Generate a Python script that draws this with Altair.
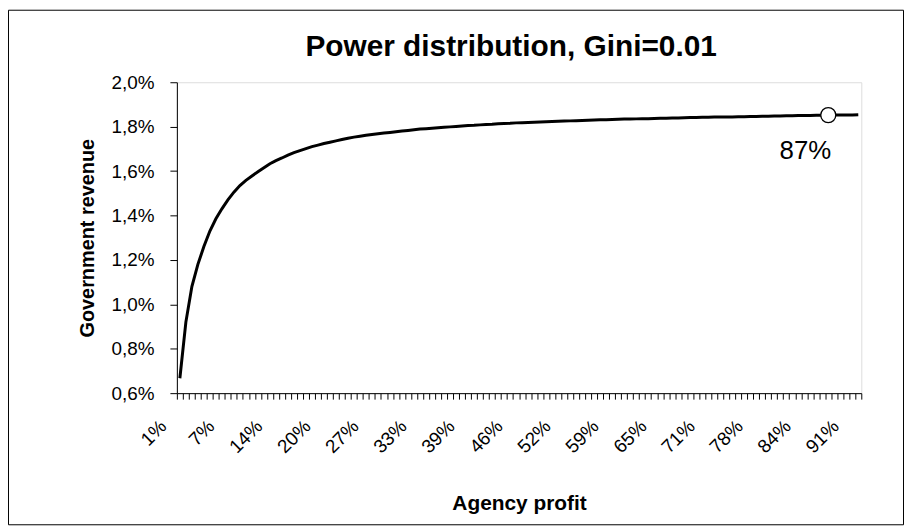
import altair as alt
import pandas as pd

# Government revenue (%) for each agency-profit category (114 categories)
revenue = [
    0.667, 0.92, 1.08, 1.18, 1.26, 1.33, 1.385, 1.43, 1.47, 1.505,
    1.535, 1.558, 1.578, 1.597, 1.615, 1.633, 1.647, 1.659, 1.672, 1.683,
    1.692, 1.701, 1.710, 1.717, 1.724, 1.730, 1.736, 1.742, 1.748, 1.753,
    1.757, 1.761, 1.765, 1.768, 1.771, 1.774, 1.777, 1.780, 1.783, 1.786,
    1.789, 1.791, 1.793, 1.795, 1.797, 1.799, 1.801, 1.803, 1.805, 1.806,
    1.808, 1.810, 1.811, 1.813, 1.814, 1.815, 1.817, 1.818, 1.819, 1.820,
    1.821, 1.822, 1.823, 1.824, 1.825, 1.826, 1.827, 1.828, 1.829, 1.830,
    1.831, 1.831, 1.832, 1.833, 1.834, 1.834, 1.835, 1.836, 1.836, 1.837,
    1.838, 1.838, 1.839, 1.839, 1.840, 1.841, 1.841, 1.842, 1.842, 1.843,
    1.843, 1.844, 1.844, 1.845, 1.845, 1.846, 1.846, 1.847, 1.847, 1.848,
    1.848, 1.849, 1.849, 1.850, 1.850, 1.850, 1.851, 1.851, 1.852, 1.852,
    1.852, 1.853, 1.853, 1.854,
]

# category tick labels (every 8th category is labelled)
label_index = [0, 8, 16, 24, 32, 40, 48, 56, 64, 72, 80, 88, 96, 104, 112]
label_text = ["1%", "7%", "14%", "20%", "27%", "33%", "39%", "46%", "52%",
              "59%", "65%", "71%", "78%", "84%", "91%"]

y_ticks = [0.6, 0.8, 1.0, 1.2, 1.4, 1.6, 1.8, 2.0]

marker_index = 108
marker_label = "87%"

n_cat = len(revenue)
df = pd.DataFrame({"idx": list(range(n_cat)), "rev": revenue})
df["pos"] = df["idx"] + 0.5
mdf = pd.DataFrame({"pos": [marker_index + 0.5], "rev": [revenue[marker_index]],
                    "label": [marker_label]})

FONT = "Liberation Sans"

expr = "''"
for i, t in reversed(list(zip(label_index, label_text))):
    expr = f"datum.value == {i} ? '{t}' : ({expr})"

x_enc = alt.X(
    "pos:Q",
    scale=alt.Scale(domain=[0, n_cat], nice=False, zero=False),
    axis=alt.Axis(
        values=list(range(n_cat + 1)),
        labelExpr=expr,
        labelAngle=315,
        labelAlign="right",
        labelBaseline="middle",
        labelOffset=-14,
        labelPadding=24,
        labelFontSize=19,
        labelOverlap=False,
        labelFlush=False,
        labelColor="black",
        tickSize=6,
        tickColor="black",
        domainColor="black",
        grid=False,
        title="Agency profit",
        titleFontSize=21,
        titleFontWeight="bold",
        titleColor="black",
        titleX=344.5,
        titleY=111,
        titleBaseline="middle",
        titleAlign="center",
    ),
)

y_enc = alt.Y(
    "rev:Q",
    scale=alt.Scale(domain=[0.6, 2.0], nice=False, zero=False),
    axis=alt.Axis(
        values=y_ticks,
        labelExpr="replace(format(datum.value, '.1f'), '.', ',') + '%'",
        labelFontSize=19,
        labelPadding=16,
        labelColor="black",
        tickSize=7,
        tickColor="black",
        domainColor="black",
        grid=False,
        title="Government revenue",
        titleFontSize=20,
        titleFontWeight="bold",
        titleColor="black",
        titleX=-90,
        titleY=156.5,
        titleBaseline="middle",
        titleAlign="center",
    ),
)

frame = alt.Chart(mdf).mark_rect(
    fillOpacity=0, stroke="black", strokeWidth=1
).encode(
    x=alt.value(-169.5), x2=alt.value(731.5),
    y=alt.value(-72.5), y2=alt.value(445.5),
)

line = alt.Chart(df).mark_line(color="black", strokeWidth=3).encode(x=x_enc, y=y_enc)

point = alt.Chart(mdf).mark_point(
    filled=True, fill="white", stroke="black", strokeWidth=1.3, size=230, opacity=1
).encode(x=x_enc, y=y_enc)

text = alt.Chart(mdf).mark_text(
    dx=-23, dy=36, fontSize=26, font=FONT, color="black"
).encode(x=x_enc, y=y_enc, text="label:N")

chart = alt.layer(frame, line, point, text).properties(
    width=689,
    height=313,
    autosize=alt.AutoSizeParams(type="none"),
    padding={"left": 170, "top": 73, "right": 43, "bottom": 133},
    title=alt.TitleParams(
        text="Power distribution, Gini=0.01",
        fontSize=30,
        fontWeight="bold",
        font=FONT,
        color="black",
        anchor="middle",
        frame="group",
        dx=-8,
        dy=77,
        offset=0,
        baseline="alphabetic",
    ),
).configure_view(
    stroke="#808080", strokeWidth=1
).configure_axis(
    labelFont=FONT, titleFont=FONT
).configure(
    background="white"
)

chart.save("out.html", embed_options={"renderer": "svg", "actions": False})
